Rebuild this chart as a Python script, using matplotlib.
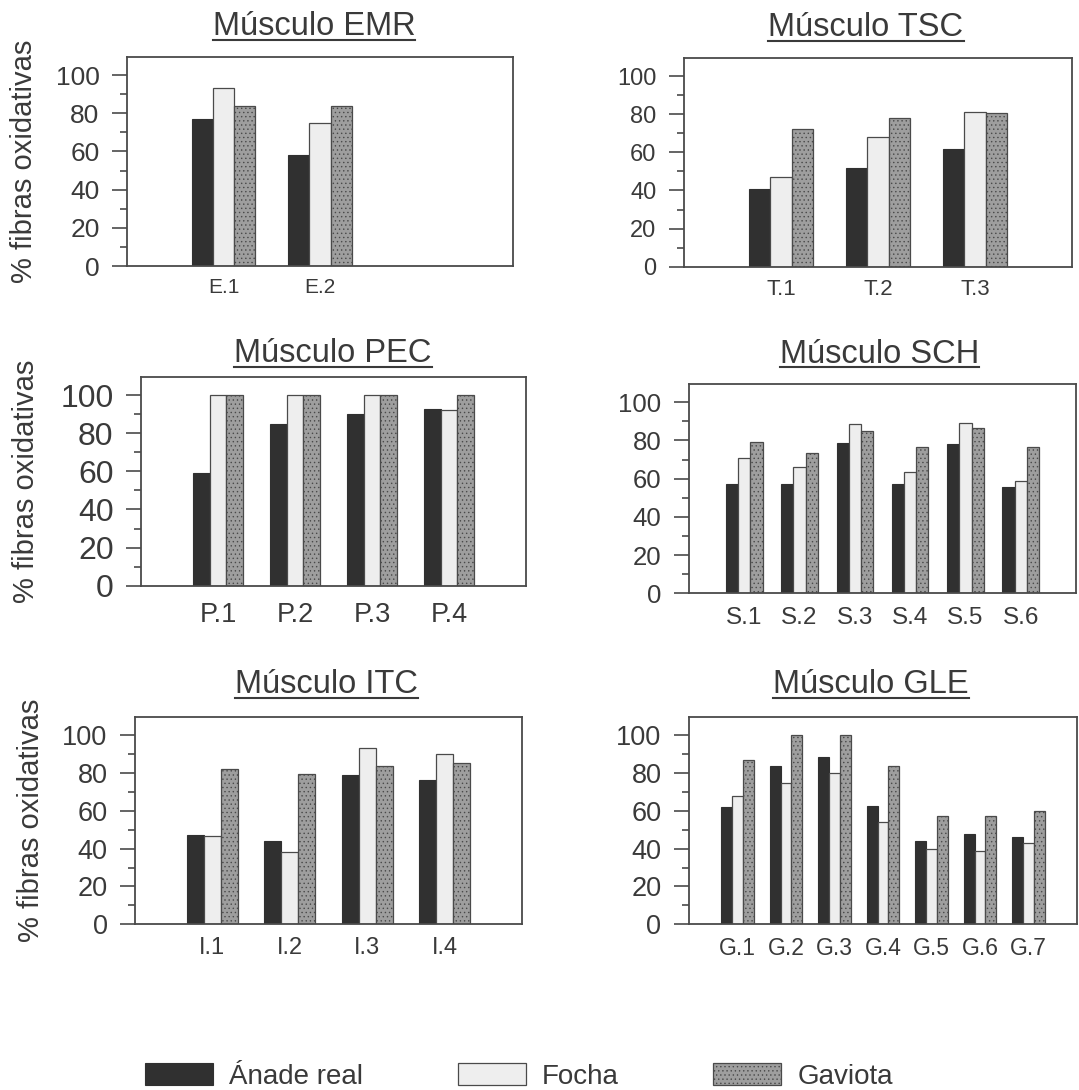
import matplotlib
matplotlib.use("Agg")
import matplotlib.pyplot as plt
import numpy as np
from matplotlib.lines import Line2D
from matplotlib.patches import Patch
from matplotlib.ticker import MultipleLocator

# % fibras oxidativas por músculo y especie
emr_labels = ["E.1", "E.2"]
emr_anade = [77, 58]
emr_focha = [93, 75]
emr_gaviota = [84, 84]

tsc_labels = ["T.1", "T.2", "T.3"]
tsc_anade = [41, 52, 62]
tsc_focha = [47, 68, 81]
tsc_gaviota = [72, 78, 80.5]

pec_labels = ["P.1", "P.2", "P.3", "P.4"]
pec_anade = [59, 85, 90, 92.5]
pec_focha = [100, 100, 100, 92]
pec_gaviota = [100, 100, 100, 100]

sch_labels = ["S.1", "S.2", "S.3", "S.4", "S.5", "S.6"]
sch_anade = [57, 57, 78.5, 57, 78, 55.5]
sch_focha = [71, 66, 88.5, 63.5, 89, 58.5]
sch_gaviota = [79, 73.5, 85, 76.5, 86.5, 76.5]

itc_labels = ["I.1", "I.2", "I.3", "I.4"]
itc_anade = [47, 44, 79, 76.5]
itc_focha = [46.5, 38, 93, 90]
itc_gaviota = [82, 79.5, 83.5, 85.5]

gle_labels = ["G.1", "G.2", "G.3", "G.4", "G.5", "G.6", "G.7"]
gle_anade = [62, 84, 88.5, 62.5, 44, 48, 46]
gle_focha = [68, 75, 80, 54, 40, 39, 43]
gle_gaviota = [87, 100, 100, 83.5, 57.5, 57.5, 60]

species = ["Ánade real", "Focha", "Gaviota"]

W, H = 1079, 1090
INK = "#3a3a3a"
plt.rcParams["font.family"] = ["Liberation Sans", "DejaVu Sans"]
plt.rcParams["hatch.linewidth"] = 0.5

styles = [
    dict(facecolor="#303030", edgecolor="#303030", linewidth=0.8),
    dict(facecolor="#eeeeee", edgecolor="#4a4a4a", linewidth=0.9),
    dict(facecolor="#9e9e9e", edgecolor="#4a4a4a", linewidth=0.9, hatch="...."),
]

fig = plt.figure(figsize=(W / 100, H / 100), dpi=100)


def px_rect(left, right, top, bottom):
    return [left / W, 1 - bottom / H, (right - left) / W, (bottom - top) / H]


def panel(box, labels, series, xmax, ysize, xsize, xpad, title, title_xy, ylabel_x=None):
    ax = fig.add_axes(px_rect(*box))
    x = np.arange(1, len(labels) + 1)
    w = 0.22
    for k, (vals, st) in enumerate(zip(series, styles)):
        ax.bar(x + (k - 1) * w, vals, w, **st)
    ax.set_xlim(0, xmax)
    ax.set_ylim(0, 109.5)
    ax.set_xticks(x)
    ax.set_xticklabels(labels)
    ax.yaxis.set_major_locator(MultipleLocator(20))
    ax.yaxis.set_minor_locator(MultipleLocator(10))
    ax.tick_params(axis="y", which="major", direction="out", length=10.8, width=1.2,
                   color="#4a4a4a", labelsize=ysize, labelcolor=INK, pad=9)
    ax.tick_params(axis="y", which="minor", direction="out", length=5, width=1.2,
                   color="#4a4a4a")
    ax.tick_params(axis="x", length=0, labelsize=xsize, labelcolor=INK, pad=xpad)
    for sp in ax.spines.values():
        sp.set_color("#4a4a4a")
        sp.set_linewidth(1.3)
    t = fig.text(title_xy[0] / W, 1 - title_xy[1] / H, title, ha="center",
                 va="baseline", fontsize=23.5, color=INK)
    if ylabel_x is not None:
        yc = (box[2] + box[3]) / 2
        fig.text(ylabel_x / W, 1 - yc / H, "% fibras oxidativas", rotation=90,
                 ha="center", va="center", fontsize=21, color=INK)
    return t


titles = []
titles.append(panel((127, 513, 57, 266), emr_labels, [emr_anade, emr_focha, emr_gaviota],
                    4, 19, 15, 8.6, "Músculo EMR", (314, 35), ylabel_x=24))
titles.append(panel((684, 1072, 58, 266.7), tsc_labels, [tsc_anade, tsc_focha, tsc_gaviota],
                    4, 17, 16, 8.6, "Músculo TSC", (866, 36)))
titles.append(panel((141, 526, 377, 585.7), pec_labels, [pec_anade, pec_focha, pec_gaviota],
                    5, 23, 19.5, 11.5, "Músculo PEC", (333, 362), ylabel_x=26))
titles.append(panel((689, 1076, 384, 593.3), sch_labels, [sch_anade, sch_focha, sch_gaviota],
                    7, 18.5, 17.5, 10, "Músculo SCH", (879.5, 363)))
titles.append(panel((135, 522, 717.3, 924.3), itc_labels, [itc_anade, itc_focha, itc_gaviota],
                    5, 19.5, 17, 9.4, "Músculo ITC", (326.4, 693), ylabel_x=31))
titles.append(panel((689, 1077, 717.3, 924.3), gle_labels, [gle_anade, gle_focha, gle_gaviota],
                    8, 19.5, 16.5, 9.4, "Músculo GLE", (871, 693)))

# underline each panel title
fig.canvas.draw()
renderer = fig.canvas.get_renderer()
for t in titles:
    bb = t.get_window_extent(renderer)
    ybase = t.get_position()[1] * H - 4.5
    fig.add_artist(Line2D([bb.x0 / W, bb.x1 / W], [ybase / H, ybase / H],
                          transform=fig.transFigure, color=INK, linewidth=1.5))

handles = [Patch(**st) for st in styles]
fig.legend(handles, species, loc="center", bbox_to_anchor=(0.481, 0.0125), ncol=3,
           frameon=False, fontsize=20, handlelength=2.45, handleheight=0.86,
           handletextpad=0.58, columnspacing=3.4, labelcolor=INK)

fig.savefig("out.png", dpi=100)
